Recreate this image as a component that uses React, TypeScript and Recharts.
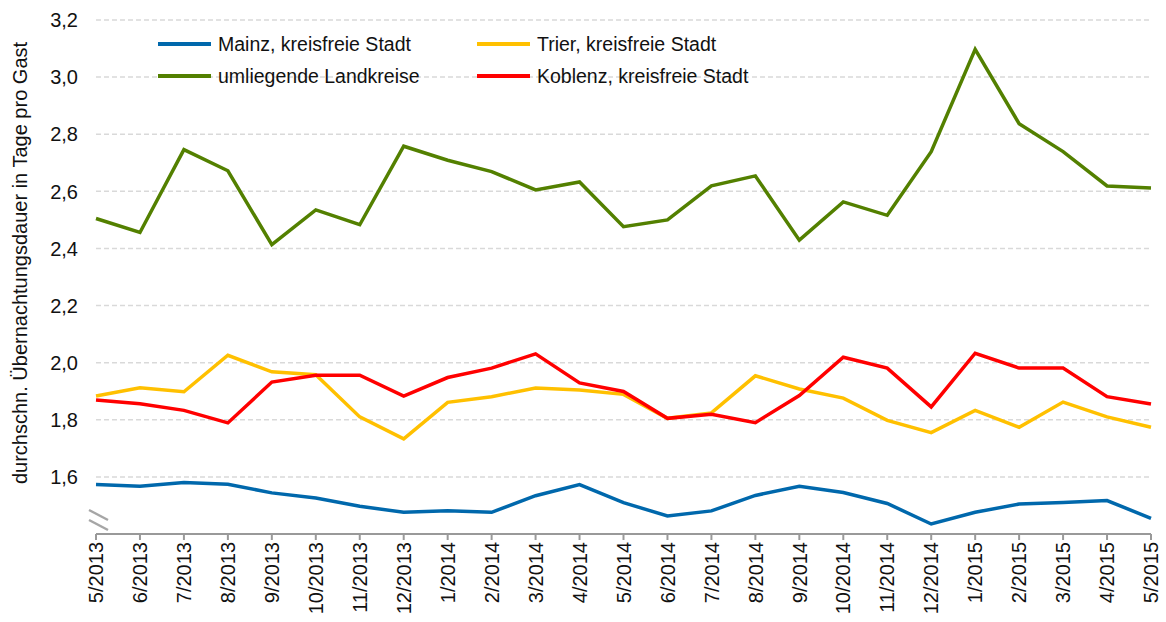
import React from 'react';
import { LineChart, Line, XAxis, YAxis, CartesianGrid, Label } from 'recharts';

const months = [
  '5/2013', '6/2013', '7/2013', '8/2013', '9/2013', '10/2013', '11/2013', '12/2013',
  '1/2014', '2/2014', '3/2014', '4/2014', '5/2014', '6/2014', '7/2014', '8/2014',
  '9/2014', '10/2014', '11/2014', '12/2014', '1/2015', '2/2015', '3/2015', '4/2015', '5/2015',
];

const mainz = [1.573, 1.567, 1.58, 1.574, 1.544, 1.526, 1.497, 1.476, 1.481, 1.476, 1.534, 1.573, 1.51,
  1.463, 1.481, 1.535, 1.567, 1.545, 1.507, 1.435, 1.476, 1.505, 1.51, 1.517, 1.455];
const trier = [1.883, 1.912, 1.898, 2.026, 1.968, 1.958, 1.81, 1.733, 1.861, 1.881, 1.911, 1.904, 1.889,
  1.805, 1.824, 1.954, 1.908, 1.876, 1.798, 1.755, 1.833, 1.774, 1.862, 1.81, 1.774];
const landkreise = [2.505, 2.456, 2.746, 2.672, 2.413, 2.535, 2.483, 2.758, 2.709, 2.669, 2.605, 2.633, 2.476,
  2.5, 2.619, 2.654, 2.429, 2.563, 2.516, 2.739, 3.097, 2.837, 2.739, 2.619, 2.612];
const koblenz = [1.869, 1.856, 1.833, 1.789, 1.932, 1.956, 1.956, 1.883, 1.948, 1.981, 2.031, 1.929, 1.899,
  1.805, 1.819, 1.79, 1.885, 2.019, 1.981, 1.845, 2.033, 1.981, 1.981, 1.881, 1.855];

const yTicks = [1.4, 1.6, 1.8, 2.0, 2.2, 2.4, 2.6, 2.8, 3.0, 3.2];

const series = [
  { key: 'mainz', name: 'Mainz, kreisfreie Stadt', color: '#0068AC' },
  { key: 'trier', name: 'Trier, kreisfreie Stadt', color: '#FFC000' },
  { key: 'landkreise', name: 'umliegende Landkreise', color: '#538000' },
  { key: 'koblenz', name: 'Koblenz, kreisfreie Stadt', color: '#FF0000' },
];

const data = months.map((m, i) => ({
  month: m,
  mainz: mainz[i],
  trier: trier[i],
  landkreise: landkreise[i],
  koblenz: koblenz[i],
}));

const FONT = '"Liberation Sans", Arial, Helvetica, sans-serif';
const TEXT = '#111';

const XTick = (props: any) => {
  const { x, y, payload } = props;
  return (
    <text
      x={x}
      y={y}
      transform={`rotate(-90 ${x} ${y})`}
      textAnchor="end"
      dy="0.36em"
      fontSize={20}
      fill={TEXT}
      fontFamily={FONT}
    >
      {payload.value}
    </text>
  );
};

const YTick = (props: any) => {
  const { x, y, payload } = props;
  if (Math.abs(payload.value - 1.4) < 1e-6) {
    return (
      <g stroke="#A6A6A6" strokeWidth={2.5}>
        <line x1={x + 11} y1={y - 24} x2={x + 30} y2={y - 14} />
        <line x1={x + 11} y1={y - 14} x2={x + 30} y2={y - 4} />
      </g>
    );
  }
  return (
    <text x={x} y={y} textAnchor="end" dy="0.36em" fontSize={20} fill={TEXT} fontFamily={FONT}>
      {payload.value.toFixed(1).replace('.', ',')}
    </text>
  );
};

const YTitle = (props: any) => {
  const { viewBox } = props;
  const cx = 20;
  const cy = viewBox.y + viewBox.height / 2 - 14;
  return (
    <text
      x={cx}
      y={cy}
      transform={`rotate(-90 ${cx} ${cy})`}
      textAnchor="middle"
      dominantBaseline="central"
      fontSize={20}
      fill={TEXT}
      fontFamily={FONT}
    >
      durchschn. Übernachtungsdauer in Tage pro Gast
    </text>
  );
};

const legendRows = [
  [series[0], series[1]],
  [series[2], series[3]],
];

export default function App() {
  return (
    <div style={{ position: 'absolute', left: 0, top: 0, width: 1166, height: 622, background: '#fff' }}>
      <LineChart
        width={1166}
        height={622}
        data={data}
        margin={{ top: 20, right: 15, left: 0, bottom: 0 }}
        style={{ fontFamily: FONT }}
      >
        <CartesianGrid vertical={false} stroke="#D9D9D9" strokeWidth={1.5} strokeDasharray="5 3" />
        <XAxis
          dataKey="month"
          interval={0}
          height={88}
          tick={<XTick />}
          tickSize={6}
          tickMargin={2}
          axisLine={{ stroke: '#999', strokeWidth: 2 }}
          tickLine={{ stroke: '#999', strokeWidth: 2 }}
        />
        <YAxis
          width={96}
          domain={[1.4, 3.2]}
          ticks={yTicks}
          interval={0}
          axisLine={false}
          tickLine={false}
          tickSize={6}
          tickMargin={12}
          tick={<YTick />}
        >
          <Label content={<YTitle />} />
        </YAxis>
        {series.map((s) => (
          <Line
            key={s.key}
            type="linear"
            dataKey={s.key}
            name={s.name}
            stroke={s.color}
            strokeWidth={3.5}
            dot={false}
            activeDot={false}
            isAnimationActive={false}
          />
        ))}
      </LineChart>
      <div style={{ position: 'absolute', left: 158, top: 28, fontFamily: FONT, fontSize: 19.5, color: TEXT }}>
        {legendRows.map((row, ri) => (
          <div key={ri} style={{ display: 'flex', height: 32, alignItems: 'center' }}>
            {row.map((s) => (
              <div key={s.key} style={{ display: 'flex', alignItems: 'center', width: 319 }}>
                <div style={{ width: 53, height: 4, background: s.color, marginRight: 7 }} />
                <span style={{ whiteSpace: 'nowrap' }}>{s.name}</span>
              </div>
            ))}
          </div>
        ))}
      </div>
    </div>
  );
}
